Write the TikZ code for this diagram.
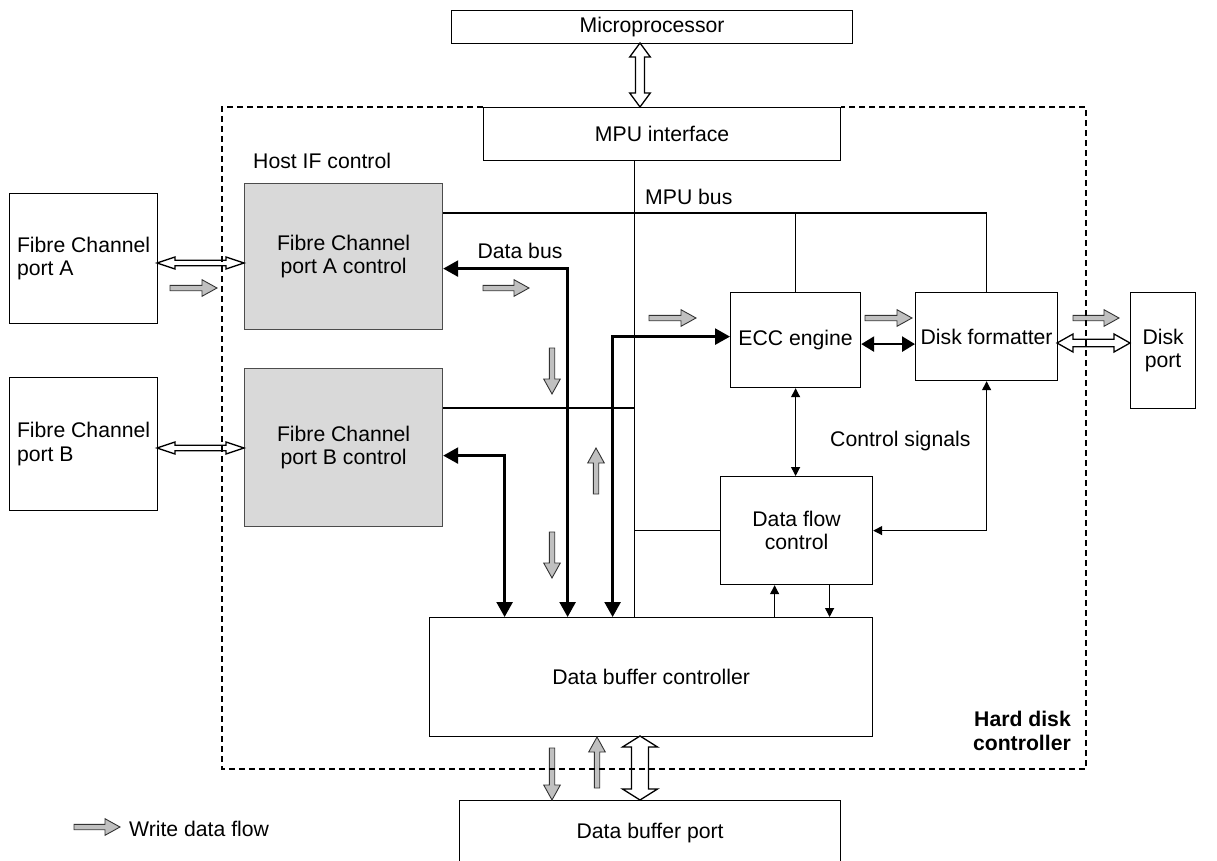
\documentclass[tikz,border=0pt]{standalone}
\usepackage{fontspec}
\setmainfont{Liberation Sans}
\usetikzlibrary{arrows.meta,calc}
\definecolor{boxgray}{HTML}{D9D9D9}
\definecolor{arrgray}{HTML}{C0C0C0}
\newcommand\dfont{\fontsize{21.2}{23.5}\selectfont}
\tikzset{
  box/.style={draw, line width=1.2pt, inner sep=0pt, align=center, font=\dfont, anchor=north west, fill=white},
  graybox/.style={box, fill=boxgray, draw=black!70},
  lbl/.style={font=\dfont, inner sep=0pt},
  conn/.style={line width=1.2pt},
  bus/.style={line width=2.6pt, {Triangle[length=15pt,width=16pt]}-{Triangle[length=15pt,width=16pt]}},
  sigboth/.style={line width=1.2pt, {Triangle[length=9pt,width=9pt]}-{Triangle[length=9pt,width=9pt]}},
  sigone/.style={line width=1.2pt, -{Triangle[length=9pt,width=9pt]}},
  grayarr/.style={draw=black!80, fill=arrgray, line width=0.9pt, line join=miter},
  hollowarr/.style={draw, fill=white, line width=1.3pt, line join=miter},
  dashedbox/.style={line width=2.7pt, dash pattern=on 6pt off 4pt},
  warrow/.pic={\path[grayarr] (0,-2.7) -- (#1-15,-2.7) -- (#1-15,-8.3) -- (#1,0) -- (#1-15,8.3) -- (#1-15,2.7) -- (0,2.7) -- cycle;}
}
% horizontal hollow double arrow: x1, x2, y, shaft half width, head half width, head length
\newcommand\hollowH[6]{\path[hollowarr] (#1,#3) -- (#1+#6,#3-#5) -- (#1+#6,#3-#4) -- (#2-#6,#3-#4) -- (#2-#6,#3-#5) -- (#2,#3) -- (#2-#6,#3+#5) -- (#2-#6,#3+#4) -- (#1+#6,#3+#4) -- (#1+#6,#3+#5) -- cycle;}
% vertical hollow double arrow: x, y1, y2, shaft half width, head half width, head length
\newcommand\hollowV[6]{\path[hollowarr] (#1,#2) -- (#1+#5,#2+#6) -- (#1+#4,#2+#6) -- (#1+#4,#3-#6) -- (#1+#5,#3-#6) -- (#1,#3) -- (#1-#5,#3-#6) -- (#1-#4,#3-#6) -- (#1-#4,#2+#6) -- (#1-#5,#2+#6) -- cycle;}
\begin{document}
\begin{tikzpicture}[x=1pt,y=-1pt]
\useasboundingbox (0,0) rectangle (1217,861);

% boxes
\node[box, minimum width=401pt, minimum height=33pt] (micro) at (451,10) {Microprocessor};
\node[box, minimum width=357pt, minimum height=53pt] (mpuif) at (483,107) {MPU interface};
\node[box, align=left, minimum width=148pt, minimum height=130pt] (fcA) at (9,193) {Fibre Channel\\port A};
\node[box, align=left, minimum width=148pt, minimum height=133pt] (fcB) at (9,377) {Fibre Channel\\port B};
\node[graybox, minimum width=198pt, minimum height=146pt] (fcAc) at (244,183) {Fibre Channel\\port A control};
\node[graybox, minimum width=198pt, minimum height=158pt] (fcBc) at (244,368) {Fibre Channel\\port B control};
\node[box, minimum width=130pt, minimum height=95pt] (ecc) at (730,292) {ECC engine};
\node[box, minimum width=142pt, minimum height=88pt] (dfmt) at (915,292) {Disk formatter};
\node[box, minimum width=65pt, minimum height=116pt] (dport) at (1130,292) {Disk\\port};
\node[box, minimum width=152pt, minimum height=108pt] (dfc) at (720,476) {Data flow\\control};
\node[box, minimum width=443pt, minimum height=119pt] (dbc) at (429,617) {Data buffer controller};
\node[box, minimum width=381pt, minimum height=64pt] (dbport) at (459,800) {Data buffer port};

% labels
\node[lbl, anchor=west] (hostif) at (253,161) {Host IF control};
\node[lbl, anchor=west] (mpubus) at (645,197) {MPU bus};
\node[lbl] (databus) at (520,251) {Data bus};
\node[lbl, anchor=west] (ctrlsig) at (830,441) {Control signals};
\node[lbl, font=\dfont\bfseries, align=right, anchor=east] (hdc) at (1071,731) {Hard disk\\controller};
\node[lbl, anchor=west] (legend) at (129,829) {Write data flow};

% MPU bus
\coordinate (mb) at ([xshift=-27.5pt]mpuif.south);
\coordinate (busy) at ([yshift=-30pt]fcAc.north east);
\draw[conn] (mb) -- (mb |- dbc.north);
\draw[conn] (busy) -| (dfmt.north);
\draw[conn] (ecc.north) -- (ecc.north |- busy);
\coordinate (busb) at ([yshift=-40pt]fcBc.north east);
\draw[conn] (busb) -- (busb -| mb);
\draw[conn] (dfc.west) -- (dfc.west -| mb);

% data buses
\draw[bus] ([yshift=-12pt]fcAc.east) -| ([xshift=-83.5pt]dbc.north);
\draw[bus] ([yshift=-8pt]fcBc.east) -| ([xshift=-146.5pt]dbc.north);
\draw[bus] ([yshift=3.5pt]ecc.west) -| ([xshift=-38.5pt]dbc.north);
\draw[line width=2.6pt, {Triangle[length=13pt,width=15pt]}-{Triangle[length=13pt,width=15pt]}] ([yshift=-4pt]ecc.east) -- ([yshift=-4pt]ecc.east -| dfmt.west);

% control signals
\draw[sigboth] (ecc.south) -- (ecc.south |- dfc.north);
\draw[sigboth] (dfmt.south) |- (dfc.east);
\coordinate (u1) at ([xshift=-22pt]dfc.south);
\coordinate (d1) at ([xshift=33pt]dfc.south);
\draw[sigone] (u1 |- dbc.north) -- (u1);
\draw[sigone] (d1) -- (d1 |- dbc.north);

% hollow double arrows
\hollowV{640}{43}{107}{4.5}{10.3}{14}
\hollowH{157}{244}{263}{2.7}{6}{18}
\hollowH{157}{244}{448}{2.7}{6}{18}
\hollowH{1057}{1130}{343}{3.7}{9}{16}
\hollowV{640}{736}{800}{8.5}{17.5}{11}

% write data flow arrows
\pic at (170,288) {warrow=47};
\pic at (483,288) {warrow=46};
\pic at (649,318) {warrow=47};
\pic at (865,318) {warrow=47};
\pic at (1073,318) {warrow=46};
\pic[rotate=-90] at (552,348) {warrow=46};
\pic[rotate=90] at (596,494) {warrow=46};
\pic[rotate=-90] at (552,532) {warrow=46};
\pic[rotate=-90] at (552,748) {warrow=52};
\pic[rotate=90] at (597,788) {warrow=51};
\pic at (74,827) {warrow=46};

% dashed controller border
\draw[dashedbox] (mpuif.north west) -- (222,107) -- (222,769) -- (1086,769) -- (1086,107) -- (mpuif.north east);
\end{tikzpicture}
\end{document}
